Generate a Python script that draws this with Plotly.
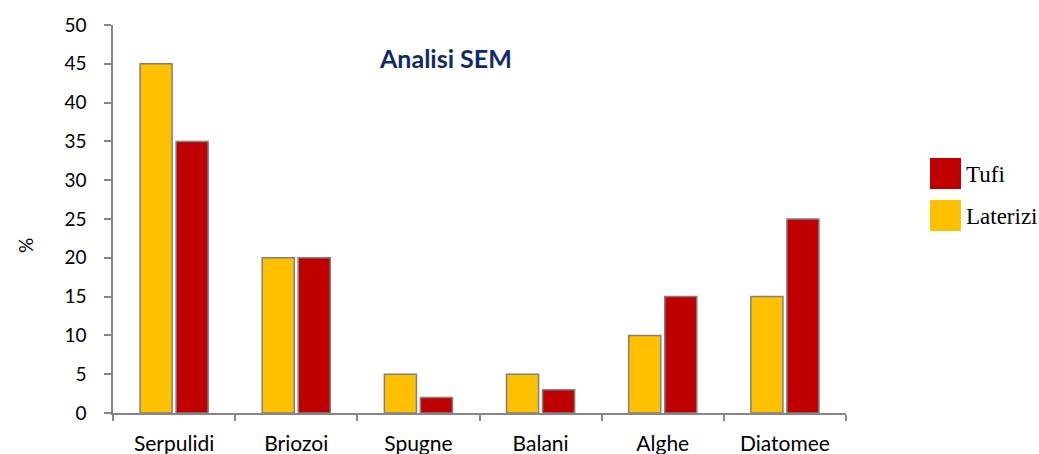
import plotly.graph_objects as go

categories = ["Serpulidi", "Briozoi", "Spugne", "Balani", "Alghe", "Diatomee"]
laterizi = [45, 20, 5, 5, 10, 15]
tufi = [35, 20, 2, 3, 15, 25]
y_ticks = [0, 5, 10, 15, 20, 25, 30, 35, 40, 45, 50]

YELLOW = "#FFC000"
RED = "#C00000"
EDGE = "#808080"
AXIS = "#868686"
FONT = "Lato, 'Open Sans', sans-serif"

W, H = 1039, 454
L, R, T, B = 113, 193, 25, 41
PW, PH = W - L - R, H - T - B


def px_x(x):
    return (x - L) / PW


def px_y(y):
    return 1 - (y - T) / PH


fig = go.Figure()
fig.add_trace(go.Bar(x=categories, y=laterizi, name="Laterizi",
                     marker=dict(color=YELLOW, line=dict(color=EDGE, width=1.5))))
fig.add_trace(go.Bar(x=categories, y=tufi, name="Tufi",
                     marker=dict(color=RED, line=dict(color=EDGE, width=1.5))))

fig.update_layout(
    width=W, height=H,
    margin=dict(l=L, r=R, t=T, b=B),
    paper_bgcolor="white", plot_bgcolor="white",
    barmode="group", bargap=0.41, bargroupgap=0.11,
    showlegend=False,
    font=dict(family=FONT, size=19, color="#000000"),
)
fig.update_xaxes(
    automargin=False,
    showline=True, linecolor=AXIS, linewidth=1.5,
    ticks="outside", tickson="boundaries", ticklen=6, tickcolor=AXIS, tickwidth=1.5,
    tickfont=dict(size=21, family=FONT), ticklabelstandoff=11, showgrid=False,
)
fig.update_yaxes(
    automargin=False,
    range=[0, 50], tickvals=y_ticks, showline=True, linecolor=AXIS, linewidth=1.5,
    ticks="outside", ticklen=7, tickcolor=AXIS, tickwidth=1.5,
    tickfont=dict(size=19, family=FONT), ticklabelstandoff=14,
    showgrid=False, zeroline=False,
)

# Y-axis unit label
fig.add_annotation(text="%", xref="paper", yref="paper",
                   x=px_x(25), y=px_y(246), xanchor="center", yanchor="middle",
                   textangle=-90, showarrow=False,
                   font=dict(size=19, family=FONT, color="#000000"))

# Chart title
fig.add_annotation(text="<b>Analisi SEM</b>", xref="paper", yref="paper",
                   x=px_x(445), y=px_y(58), xanchor="center", yanchor="middle",
                   showarrow=False,
                   font=dict(size=25, color="#0F2A6B", family=FONT))

# Legend with large swatches
legend_items = [("Tufi", RED, 158), ("Laterizi", YELLOW, 200)]
for label, color, top in legend_items:
    fig.add_shape(type="rect", xref="paper", yref="paper",
                  x0=px_x(930), x1=px_x(961),
                  y0=px_y(top + 31), y1=px_y(top),
                  fillcolor=color, line=dict(color=color, width=0))
    fig.add_annotation(text=label, xref="paper", yref="paper",
                       x=px_x(964), y=px_y(top + 16),
                       xanchor="left", yanchor="middle", showarrow=False,
                       font=dict(size=23, family="'Liberation Serif', serif", color="#000000"))

fig.write_html("out.html")
